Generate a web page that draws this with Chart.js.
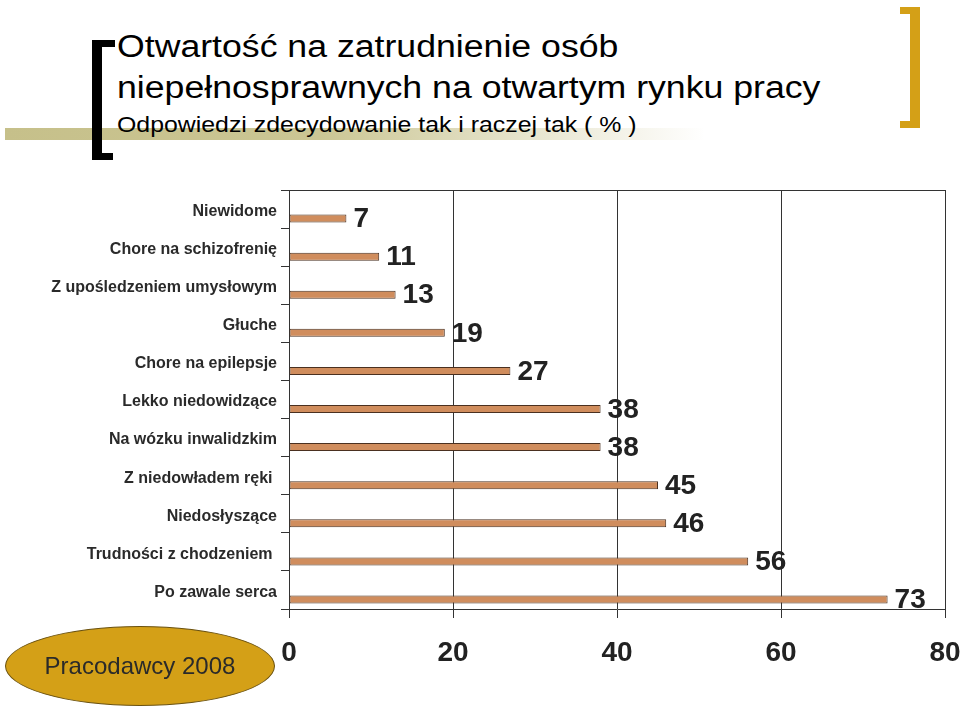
<!DOCTYPE html>
<html>
<head>
<meta charset="utf-8">
<script src="https://cdn.jsdelivr.net/npm/chart.js@4/dist/chart.umd.min.js"></script>
<style>
  html, body { margin: 0; padding: 0; background: #fff; }
  body { width: 960px; height: 709px; position: relative; overflow: hidden; font-family: "Liberation Sans", Arial, sans-serif; }
  #chart { position: absolute; left: 0; top: 0; }
  .band { position: absolute; left: 5px; top: 128px; width: 700px; height: 12px;
          background: linear-gradient(to right, #c6c08a 0%, #cbc694 45%, rgba(255,255,255,0) 100%); }
  .br { position: absolute; background: #000; }
  .bg { position: absolute; background: #d4a017; }
  .tt { position: absolute; left: 117px; color: #000; white-space: nowrap; transform-origin: 0 0; }
  .t1 { font-size: 31px; line-height: 31px; transform: scaleX(1.15); }
  .t2 { font-size: 22px; line-height: 22px; transform: scaleX(1.13); }
  .oval { position: absolute; left: 5px; top: 626px; width: 270px; height: 80px; border-radius: 50%;
          background: #d4a017; border: 1px solid #6b5210; box-sizing: border-box;
          display: flex; align-items: center; justify-content: center; font-size: 24px; color: #2a2a2a; }
</style>
</head>
<body>
<div class="band"></div>
<div class="br" style="left:92px;top:40px;width:10px;height:120px"></div>
<div class="br" style="left:92px;top:40px;width:23px;height:7px"></div>
<div class="br" style="left:92px;top:153px;width:21px;height:7px"></div>
<div class="bg" style="left:910px;top:7px;width:10px;height:121px"></div>
<div class="bg" style="left:900px;top:7px;width:20px;height:7px"></div>
<div class="bg" style="left:900px;top:121px;width:20px;height:7px"></div>
<div class="tt t1" style="top:31px">Otwartość na zatrudnienie osób</div>
<div class="tt t1" style="top:72px">niepełnosprawnych na otwartym rynku pracy</div>
<div class="tt t2" style="top:114px">Odpowiedzi zdecydowanie tak i raczej tak ( % )</div>
<canvas id="chart" width="960" height="709"></canvas>
<div class="oval">Pracodawcy 2008</div>
<script>
const categories = [
  "Niewidome",
  "Chore na schizofrenię",
  "Z upośledzeniem umysłowym",
  "Głuche",
  "Chore na epilepsje",
  "Lekko niedowidzące",
  "Na wózku inwalidzkim",
  "Z niedowładem ręki ",
  "Niedosłyszące",
  "Trudności z chodzeniem ",
  "Po zawale serca"
]
const values = [7, 11, 13, 19, 27, 38, 38, 45, 46, 56, 73]
const xTicks = [0, 20, 40, 60, 80]

const valueLabels = {
  id: "valueLabels",
  afterDatasetsDraw(chart) {
    const ctx = chart.ctx
    const meta = chart.getDatasetMeta(1)
    ctx.save()
    ctx.font = "bold 28px 'Liberation Sans', Arial, sans-serif"
    ctx.fillStyle = "#222"
    ctx.textAlign = "left"
    ctx.textBaseline = "middle"
    meta.data.forEach((bar, i) => {
      ctx.fillText(String(values[i]), bar.x + 7, bar.y + 1)
    })
    ctx.restore()
  }
}

const topBorder = {
  id: "topBorder",
  afterDraw(chart) {
    const { ctx, chartArea } = chart
    ctx.save()
    ctx.strokeStyle = "#333"
    ctx.lineWidth = 1
    ctx.beginPath()
    ctx.moveTo(chartArea.left, chartArea.top + 0.5)
    ctx.lineTo(chartArea.right, chartArea.top + 0.5)
    ctx.stroke()
    ctx.restore()
  }
}

new Chart(document.getElementById("chart"), {
  type: "bar",
  data: {
    labels: categories,
    datasets: [
      { data: categories.map(() => null) },
      {
        data: values,
        backgroundColor: "#d08d5d",
        borderColor: "#4a3020",
        borderWidth: 1,
        borderSkipped: false
      }
    ]
  },
  options: {
    indexAxis: "y",
    responsive: false,
    animation: false,
    datasets: { bar: { categoryPercentage: 1, barPercentage: 0.42 } },
    layout: { padding: { top: 190, right: 15, left: 0, bottom: 0 } },
    plugins: { legend: { display: false }, tooltip: { enabled: false } },
    scales: {
      x: {
        min: 0,
        max: 80,
        afterBuildTicks: s => { s.ticks = xTicks.map(v => ({ value: v })) },
        afterFit: s => { s.height = 100; s.paddingLeft = 0; s.paddingRight = 0 },
        grid: { color: "#333", lineWidth: 1, tickLength: 9 },
        border: { display: true, color: "#333" },
        ticks: {
          color: "#222",
          padding: 18,
          maxRotation: 0,
          font: { family: "'Liberation Sans', Arial", size: 28, weight: "bold" }
        }
      },
      y: {
        afterFit: s => { s.width = 289; s.paddingTop = 0; s.paddingBottom = 0 },
        grid: { offset: true, drawOnChartArea: false, color: "#333", tickLength: 8 },
        border: { display: true, color: "#333" },
        ticks: {
          color: "#2a2a2a",
          padding: 4,
          labelOffset: 2.5,
          font: { family: "'Liberation Sans', Arial", size: 16, weight: "bold" }
        }
      }
    }
  },
  plugins: [valueLabels, topBorder]
})
</script>
</body>
</html>
